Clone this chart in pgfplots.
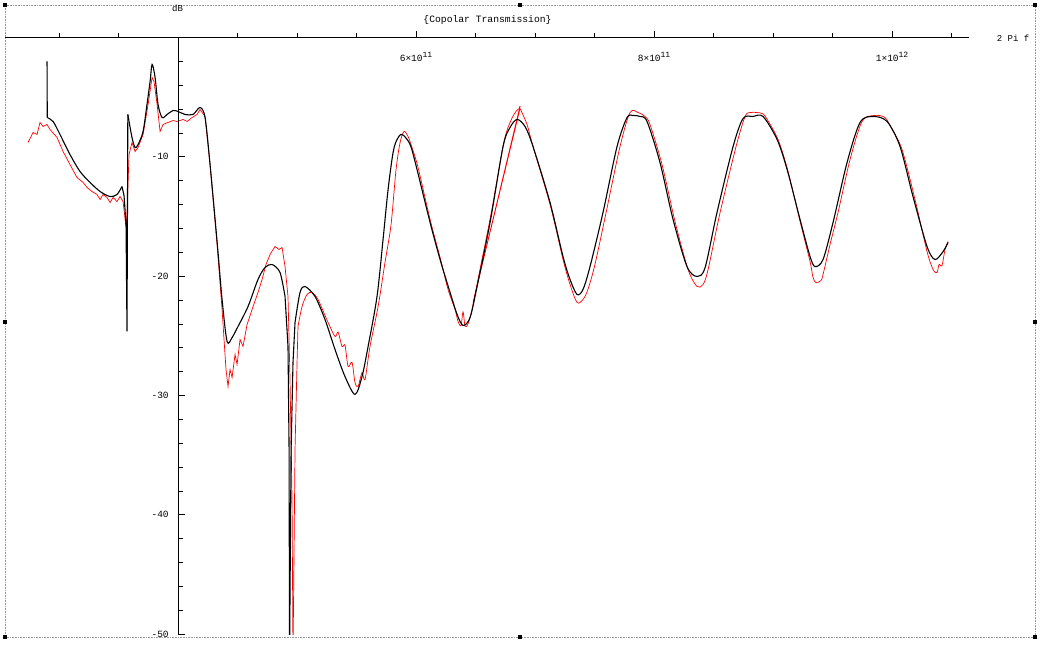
\documentclass[border=0pt]{standalone}
\usepackage{fontspec}
\setmainfont{Liberation Mono}
\usepackage{pgfplots}
\pgfplotsset{compat=1.18}
\begin{document}
\fontsize{9.5}{11}\selectfont
\begin{tikzpicture}
\useasboundingbox (-5.5pt,-17pt) rectangle (1045.5pt,634pt);
\draw[densely dotted, gray!80, line width=0.6pt] (-0.5pt,-3pt) rectangle (1029.5pt,629pt);
\foreach \hx/\hy in {-0.5/629,514.5/629,1029.5/629,-0.5/312,1029.5/312,-0.5/-3,514.5/-3,1029.5/-3}
  \fill[black] (\hx pt-2pt,\hy pt-2pt) rectangle (\hx pt+2pt,\hy pt+2pt);
\begin{axis}[
  at={(0pt,0pt)}, anchor=south west, scale only axis,
  width=963.9pt, height=596.5pt,
  xmin=2.55, xmax=10.65, ymin=-50, ymax=0,
  axis x line=top, axis y line=none,
  x axis line style={-, line width=0.8pt},
  xtick={6,8,10},
  xticklabels={6×10\raisebox{4pt}{\fontsize{8}{8}\selectfont 11},8×10\raisebox{4pt}{\fontsize{8}{8}\selectfont 11},1×10\raisebox{4pt}{\fontsize{8}{8}\selectfont 12}},
  minor xtick={3,3.5,4.5,5,5.5,6.5,7,7.5,8.5,9,9.5,10.5},
  tick align=outside,
  major tick length=6pt, minor tick length=4pt,
  tick style={black, line width=0.6pt},
  xticklabel style={anchor=north, yshift=-17pt, font=\fontsize{9.5}{10}\selectfont},
  clip=true,
]
% red: measured
\addplot[red, line width=0.7pt] coordinates {
(2.739,-8.80) (2.782,-7.96) (2.815,-8.13) (2.840,-7.12) (2.866,-7.46) (2.899,-7.29) (2.924,-7.71) (2.983,-8.38) (3.034,-9.56) (3.092,-10.65) (3.151,-11.74) (3.202,-12.15) (3.235,-12.57) (3.277,-12.91) (3.319,-13.16) (3.345,-13.58) (3.370,-13.16) (3.403,-13.41) (3.429,-13.83) (3.454,-13.41) (3.487,-13.75) (3.513,-13.33) (3.538,-13.75) (3.563,-15.93) (3.571,-14.84) (3.588,-9.81) (3.613,-8.80) (3.639,-9.56) (3.664,-9.22) (3.706,-8.13) (3.748,-5.62) (3.782,-3.35) (3.798,-3.69) (3.824,-5.62) (3.849,-7.88) (3.874,-7.29) (3.916,-7.12) (3.958,-6.96) (3.992,-7.04) (4.042,-6.87) (4.076,-7.04) (4.118,-6.71) (4.160,-6.45) (4.185,-6.04) (4.227,-6.62) (4.269,-10.65) (4.328,-17.35) (4.370,-22.80) (4.403,-27.83) (4.420,-29.25) (4.437,-27.83) (4.454,-28.50) (4.479,-26.57) (4.496,-27.41) (4.521,-25.31) (4.546,-25.90) (4.580,-24.06) (4.622,-22.80) (4.672,-21.37) (4.706,-20.28) (4.739,-19.03) (4.773,-18.19) (4.815,-17.52) (4.849,-17.77) (4.874,-17.60) (4.899,-19.20) (4.924,-21.71) (4.941,-28.67) (4.958,-38.73) (4.966,-52) (4.983,-34.53) (5.000,-27.24) (5.008,-24.22)
};
\addplot[red, line width=0.7pt, smooth] coordinates {
(5.008,-24.22) (5.042,-22.55) (5.084,-21.54) (5.126,-21.37) (5.176,-21.96) (5.261,-23.89) (5.319,-25.06) (5.345,-24.70) (5.378,-25.90) (5.403,-25.80) (5.429,-27.58) (5.462,-27.24) (5.487,-28.92) (5.513,-29.25) (5.546,-28.08) (5.571,-28.67) (5.613,-25.90) (5.681,-22.55) (5.739,-18.86) (5.790,-15.67) (5.832,-11.06) (5.866,-8.80) (5.899,-7.88) (5.933,-8.30) (5.966,-9.22) (6.017,-10.90) (6.118,-15.26) (6.202,-18.44) (6.269,-21.12) (6.328,-22.80) (6.353,-23.81) (6.378,-24.14) (6.395,-23.00) (6.412,-24.20) (6.437,-24.00) (6.470,-22.80) (6.530,-19.80) (6.630,-14.80) (6.740,-8.70) (6.800,-6.90) (6.840,-6.20) (6.866,-5.95) (6.874,-5.75)
};
\addplot[red, line width=0.7pt] coordinates {
(6.874,-5.75) (6.479,-22.21) (6.874,-5.95)
};
\addplot[red, line width=0.7pt, smooth] coordinates {
(6.874,-5.95) (6.933,-7.30) (6.983,-9.14) (7.126,-14.00) (7.235,-18.60) (7.294,-20.70) (7.353,-22.21) (7.403,-21.96) (7.445,-21.10) (7.504,-19.00) (7.597,-14.67) (7.714,-9.14) (7.798,-6.29) (7.866,-6.29) (7.924,-6.62) (7.966,-7.29) (8.067,-10.65) (8.176,-15.42) (8.286,-19.45) (8.361,-20.87) (8.412,-20.70) (8.454,-19.45) (8.555,-14.67) (8.689,-9.14) (8.765,-6.62) (8.807,-6.29) (8.866,-6.29) (8.908,-6.37) (8.941,-6.71) (9.042,-8.55) (9.126,-11.23) (9.227,-15.42) (9.311,-18.78) (9.336,-20.12) (9.361,-20.54) (9.403,-20.37) (9.420,-19.87) (9.479,-17.35) (9.546,-14.67) (9.647,-10.23) (9.748,-7.04) (9.849,-6.54) (9.941,-6.71) (10.000,-7.71) (10.084,-9.39) (10.193,-13.58) (10.294,-17.94) (10.345,-19.45) (10.378,-19.70) (10.395,-19.03) (10.420,-19.11) (10.445,-17.77) (10.471,-17.10)
};
% black: theory
\addplot[black, line width=1.1pt] coordinates {
(2.899,-2.01) (2.901,-6.71)
};
\addplot[black, line width=1.1pt, smooth] coordinates {
(2.901,-6.71) (2.950,-7.04) (3.008,-8.13) (3.092,-9.81) (3.176,-11.23) (3.261,-12.15) (3.345,-12.91) (3.429,-13.33) (3.487,-13.16) (3.529,-12.49)
};
\addplot[black, line width=1.1pt] coordinates {
(3.529,-12.49) (3.546,-13.24) (3.563,-15.67) (3.571,-24.64) (3.578,-6.45)
};
\addplot[black, line width=1.1pt, smooth] coordinates {
(3.578,-6.45) (3.613,-8.38) (3.639,-9.22) (3.664,-8.97) (3.706,-7.88) (3.739,-5.62) (3.765,-3.69) (3.782,-2.26) (3.807,-3.35) (3.832,-5.62) (3.866,-6.71) (3.908,-6.45) (3.958,-6.12) (4.000,-6.20) (4.059,-6.45) (4.126,-6.45) (4.185,-5.87) (4.227,-6.71) (4.269,-10.65) (4.328,-17.10) (4.370,-21.96) (4.412,-25.48) (4.454,-25.15) (4.504,-24.22) (4.588,-22.55) (4.672,-20.28) (4.731,-19.28) (4.790,-19.03) (4.857,-19.70) (4.899,-21.71)
};
\addplot[black, line width=1.1pt] coordinates {
(4.899,-21.71) (4.924,-25.90) (4.933,-34.53) (4.937,-52) (4.950,-34.53) (4.966,-27.24) (4.983,-23.89)
};
\addplot[black, line width=1.1pt, smooth] coordinates {
(4.983,-23.89) (5.025,-21.37) (5.067,-20.87) (5.151,-21.71) (5.235,-23.64) (5.319,-26.15) (5.403,-28.42) (5.487,-29.92) (5.546,-28.42) (5.597,-25.90) (5.672,-21.71) (5.723,-16.90) (5.765,-12.74) (5.807,-9.64) (5.840,-8.55) (5.882,-8.13) (5.950,-8.97) (6.008,-11.06) (6.118,-15.51) (6.202,-18.61) (6.286,-21.37) (6.345,-23.22) (6.395,-24.14) (6.454,-23.47) (6.513,-20.87) (6.622,-15.51) (6.731,-9.14) (6.790,-7.54) (6.849,-6.87) (6.916,-7.46) (6.983,-9.14) (7.126,-13.83) (7.235,-18.36) (7.294,-20.28) (7.353,-21.54) (7.403,-21.12) (7.462,-19.20) (7.571,-14.67) (7.689,-9.14) (7.773,-6.71) (7.824,-6.54) (7.882,-6.62) (7.941,-7.04) (8.050,-10.48) (8.160,-15.26) (8.277,-19.20) (8.361,-20.03) (8.429,-19.28) (8.529,-14.67) (8.664,-9.14) (8.748,-6.79) (8.832,-6.62) (8.916,-6.62) (9.034,-8.55) (9.118,-11.06) (9.227,-15.26) (9.311,-18.36) (9.353,-19.20) (9.420,-18.61) (9.504,-15.51) (9.622,-10.48) (9.731,-7.12) (9.840,-6.62) (9.958,-7.04) (10.067,-9.14) (10.176,-13.33) (10.294,-17.52) (10.361,-18.61) (10.429,-17.94) (10.471,-17.18)
};
\end{axis}
\begin{axis}[
  at={(172.55pt,0pt)}, anchor=south west, scale only axis,
  width=791.35pt, height=596.5pt,
  xmin=4, xmax=10.65, ymin=-50, ymax=0,
  axis x line=none, axis y line=left,
  y axis line style={-, line width=0.8pt},
  ytick={-50,-40,-30,-20,-10},
  yticklabels={-50,-40,-30,-20,-10},
  minor ytick={-48,-46,-44,-42,-38,-36,-34,-32,-28,-26,-24,-22,-18,-16,-14,-12,-8,-6,-4,-2},
  tick align=inside,
  major tick length=7pt, minor tick length=5pt,
  tick style={black, line width=0.6pt},
  yticklabel style={anchor=east, xshift=-6pt, font=\fontsize{9.5}{10}\selectfont},
]
\end{axis}
\node[font=\fontsize{9}{10}\selectfont] at (172pt,626pt) {dB};
\node[font=\fontsize{9.7}{10}\selectfont] at (482pt,614pt) {\{Copolar Transmission\}};
\node[font=\fontsize{9}{10}\selectfont] at (1007.5pt,596pt) {2 Pi f};
\end{tikzpicture}
\end{document}
